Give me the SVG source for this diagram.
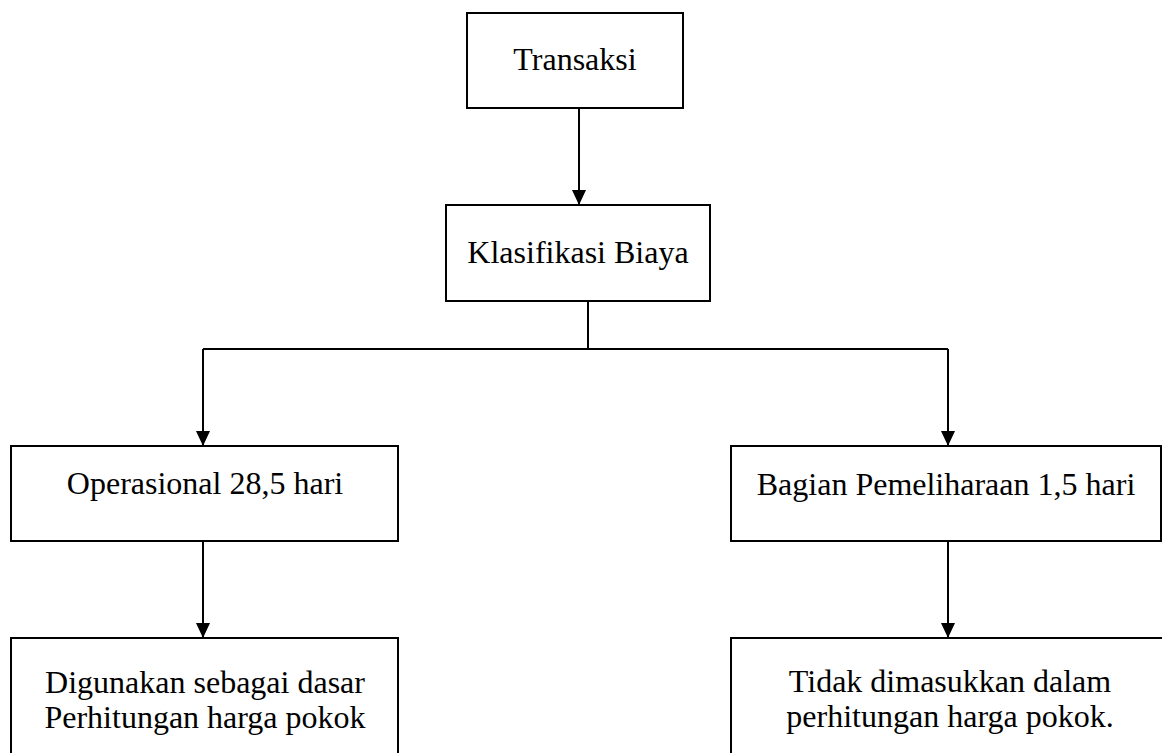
<svg xmlns="http://www.w3.org/2000/svg" width="1162" height="753" viewBox="0 0 1162 753">
<style>
.box{fill:#fff;stroke:#000;stroke-width:2}
.t{font-family:"Liberation Serif","Times New Roman",serif;font-size:32px;fill:#000;text-anchor:middle}
.c{fill:none;stroke:#000;stroke-width:2}
</style>
<defs>
<marker id="ah" markerWidth="15" markerHeight="14" refX="15" refY="7" orient="auto" markerUnits="userSpaceOnUse" viewBox="0 0 15 14">
<path d="M0,0 L15,7 L0,14 Z" fill="#000"/>
</marker>
</defs>
<rect width="1162" height="753" fill="#fff"/>
<g id="transaksi"><rect class="box" x="467" y="13" width="216" height="95"/><text class="t" x="575" y="70">Transaksi</text></g>
<g id="klasifikasi"><rect class="box" x="446" y="205" width="264" height="96"/><text class="t" x="578" y="263">Klasifikasi Biaya</text></g>
<g id="operasional"><rect class="box" x="11" y="446" width="387" height="95"/><text class="t" x="205" y="494">Operasional 28,5 hari</text></g>
<g id="pemeliharaan"><rect class="box" x="731" y="446" width="430" height="95"/><text class="t" x="946" y="495">Bagian Pemeliharaan 1,5 hari</text></g>
<g id="digunakan"><rect class="box" x="11" y="638" width="387" height="130"/><text class="t" x="205" y="693">Digunakan sebagai dasar</text><text class="t" x="205" y="728">Perhitungan harga pokok</text></g>
<g id="tidak"><rect class="box" x="731" y="638" width="450" height="130"/><text class="t" x="950" y="692">Tidak dimasukkan dalam</text><text class="t" x="950" y="727">perhitungan harga pokok.</text></g>
<g id="connectors">
<path class="c" d="M579,108 V205" marker-end="url(#ah)"/>
<path class="c" d="M588,301 V349"/>
<path class="c" d="M203,349 H948"/>
<path class="c" d="M203,349 V446" marker-end="url(#ah)"/>
<path class="c" d="M948,349 V446" marker-end="url(#ah)"/>
<path class="c" d="M203,541 V638" marker-end="url(#ah)"/>
<path class="c" d="M948,541 V638" marker-end="url(#ah)"/>
</g>
</svg>
